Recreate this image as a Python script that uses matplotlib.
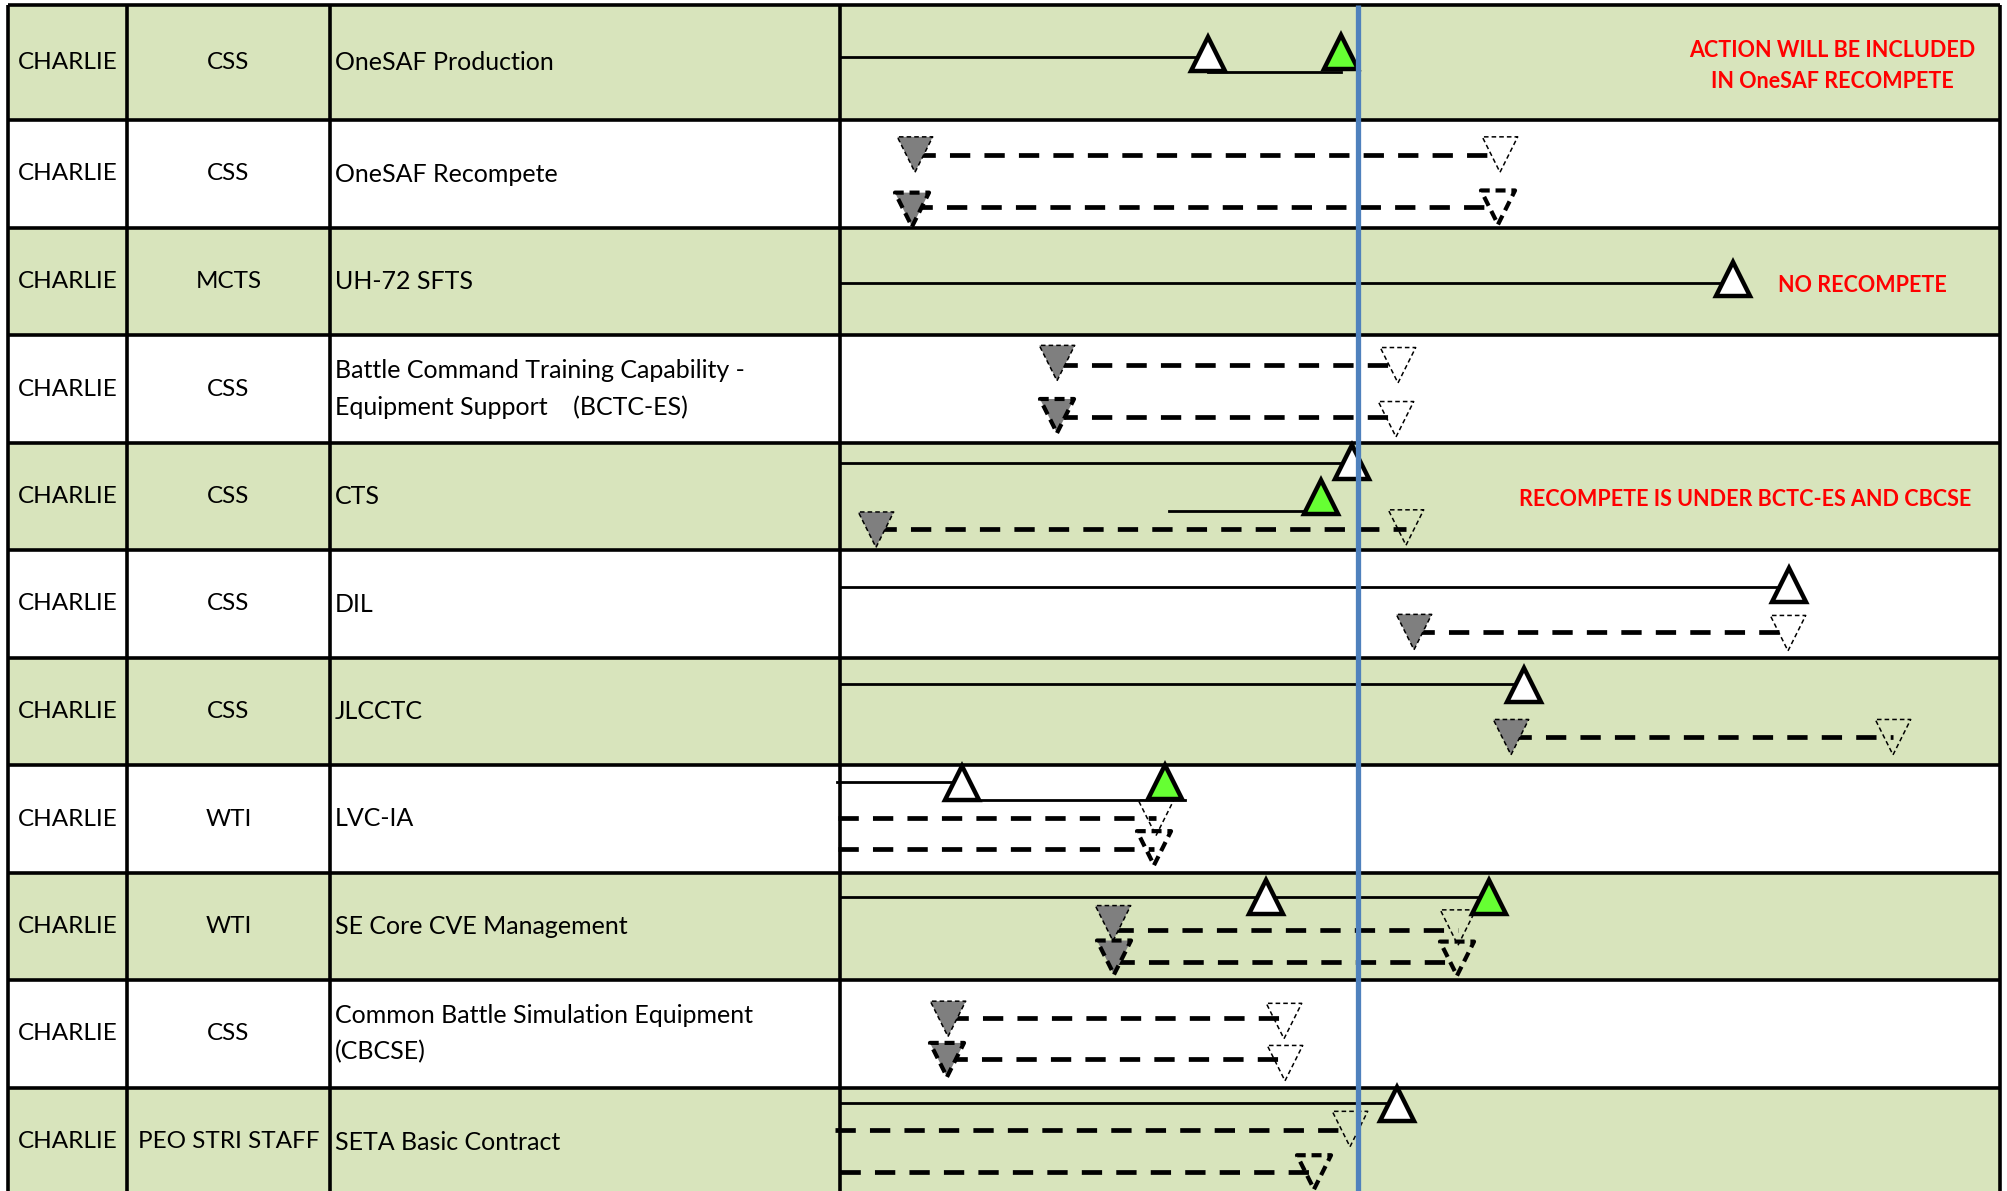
import matplotlib
matplotlib.use('Agg')
import matplotlib.pyplot as plt

plt.rcParams['font.family'] = ['Lato', 'DejaVu Sans']

# 表格内容
teams = ['CHARLIE'] * 11
offices = ['CSS', 'CSS', 'MCTS', 'CSS', 'CSS', 'CSS', 'CSS', 'WTI', 'WTI', 'CSS', 'PEO STRI STAFF']
programs = ['OneSAF Production',
            'OneSAF Recompete',
            'UH-72 SFTS',
            'Battle Command Training Capability -\nEquipment Support    (BCTC-ES)',
            'CTS',
            'DIL',
            'JLCCTC',
            'LVC-IA',
            'SE Core CVE Management',
            'Common Battle Simulation Equipment\n(CBCSE)',
            'SETA Basic Contract']

# 备注 (行号, 文本)
notes = [(0, 'ACTION WILL BE INCLUDED\nIN OneSAF RECOMPETE'),
         (2, 'NO RECOMPETE'),
         (4, 'RECOMPETE IS UNDER BCTC-ES AND CBCSE')]

# 时间轴数据, 单位: 月
today = 25.9

# 实线: (行, 开始, 结束, 行内位置)
solid_rows = [0, 0, 2, 4, 4, 5, 6, 7, 7, 8, 10]
solid_start = [0.0, 18.4, 0.0, 0.0, 16.45, 0.0, 0.0, -0.15, 6.1, 0.0, 0.0]
solid_end = [18.4, 25.05, 44.65, 25.6, 24.05, 47.45, 34.2, 6.1, 17.25, 32.45, 27.85]
solid_lane = [0.45, 0.58, 0.51, 0.19, 0.64, 0.345, 0.24, 0.16, 0.32, 0.22, 0.14]

# 上三角里程碑: (行, 时间, 行内位置, 是否完成)
up_rows = [0, 0, 2, 4, 4, 5, 6, 7, 7, 8, 8, 10]
up_x = [18.4, 25.05, 44.65, 25.6, 24.05, 47.45, 34.2, 6.1, 16.25, 21.3, 32.45, 27.85]
up_lane = [0.43, 0.41, 0.48, 0.18, 0.50, 0.325, 0.25, 0.17, 0.16, 0.22, 0.22, 0.15]
up_done = [False, True, False, False, True, False, False, False, True, False, True, False]

# 虚线
dash_rows = [1, 1, 3, 3, 4, 5, 6, 7, 7, 8, 8, 9, 9, 10, 10]
dash_start = [3.75, 3.6, 10.85, 10.85, 1.8, 28.7, 33.55, -0.1, -0.1, 13.65, 13.7, 5.4, 5.35, -0.25, 0.0]
dash_end = [33.0, 32.9, 27.9, 27.8, 28.3, 47.4, 52.65, 15.8, 15.7, 30.9, 30.85, 22.2, 22.25, 25.5, 23.7]
dash_lane = [0.32, 0.81, 0.28, 0.76, 0.80, 0.76, 0.74, 0.49, 0.78, 0.53, 0.83, 0.35, 0.73, 0.39, 0.78]

# 灰色下三角 (开始)
start_rows = [1, 1, 3, 3, 4, 5, 6, 8, 8, 9, 9]
start_x = [3.75, 3.6, 10.85, 10.85, 1.8, 28.7, 33.55, 13.65, 13.7, 5.4, 5.35]
start_lane = [0.32, 0.83, 0.26, 0.75, 0.81, 0.76, 0.74, 0.47, 0.79, 0.36, 0.74]
start_heavy = [0, 1, 0, 1, 0, 0, 0, 0, 1, 0, 1]

# 空心下三角 (结束)
end_rows = [1, 1, 3, 3, 4, 5, 6, 7, 7, 8, 8, 9, 9, 10, 10]
end_x = [33.0, 32.9, 27.9, 27.8, 28.3, 47.4, 52.65, 15.8, 15.7, 30.9, 30.85, 22.2, 22.25, 25.5, 23.7]
end_lane = [0.32, 0.81, 0.28, 0.78, 0.79, 0.77, 0.74, 0.49, 0.77, 0.51, 0.80, 0.38, 0.77, 0.38, 0.78]
end_heavy = [0, 1, 0, 0, 0, 0, 0, 0, 1, 0, 1, 0, 0, 0, 1]

# 版面 (像素)
W, H = 2007, 1191
row_edges = [5, 120, 228, 335, 443, 550, 658, 765, 873, 980, 1088, 1196]
col_edges = [8, 127, 330, 840, 2000]
months = 58
green_bg = '#D8E4BC'


def row_y(r, lane):
    return row_edges[r] + lane * (row_edges[r + 1] - row_edges[r])


fig = plt.figure(figsize=(W / 100, H / 100), dpi=100)
ax = fig.add_axes([0, 0, 1, 1])
ax.set_xlim(0, W)
ax.set_ylim(H, 0)
ax.axis('off')

# 背景色
for r in range(len(programs)):
    c = green_bg if r % 2 == 0 else 'white'
    ax.fill_between([col_edges[0], col_edges[-1]], row_edges[r], row_edges[r + 1], color=c, lw=0)

# 表格线
for y in row_edges[:-1]:
    ax.plot([col_edges[0], col_edges[-1]], [y, y], color='black', lw=2.6, solid_capstyle='butt')
for x in col_edges:
    ax.plot([x, x], [row_edges[0], H + 10], color='black', lw=2.6, solid_capstyle='butt')

# 文字
for r in range(len(programs)):
    yc = (row_edges[r] + row_edges[r + 1]) / 2
    ax.text((col_edges[0] + col_edges[1]) / 2, yc, teams[r], ha='center', va='center', fontsize=17.5)
    ax.text((col_edges[1] + col_edges[2]) / 2, yc, offices[r], ha='center', va='center', fontsize=17.5)
    ax.text(col_edges[2] + 5, yc, programs[r], ha='left', va='center', fontsize=18, linespacing=1.68)

note_x = [1832, 1862, 1745]
note_y = [66, 286, 500]
for (r, txt), nx, ny in zip(notes, note_x, note_y):
    ax.text(nx, ny, txt, ha='center', va='center', fontsize=15.5, fontweight='bold',
            color='red', linespacing=1.62)

# 时间轴
tl = fig.add_axes([col_edges[3] / W, 0, (col_edges[4] - col_edges[3]) / W, 1])
tl.set_xlim(0, months)
tl.set_ylim(H, 0)
tl.axis('off')

for r, a, b, ln in zip(solid_rows, solid_start, solid_end, solid_lane):
    y = row_y(r, ln)
    tl.plot([a, b], [y, y], color='black', lw=2.0, clip_on=False, zorder=2)

for r, a, b, ln in zip(dash_rows, dash_start, dash_end, dash_lane):
    y = row_y(r, ln)
    tl.plot([a, b], [y, y], color='black', lw=3.4, linestyle=(0, (4.3, 3.0)),
            dash_capstyle='butt', clip_on=False, zorder=2)

for r, x, ln, hv in zip(start_rows, start_x, start_lane, start_heavy):
    y = row_y(r, ln)
    if hv:
        tl.scatter([x], [y], marker='v', s=600, c='#7F7F7F', edgecolors='black',
                   linewidths=3.0, linestyle=(0, (2.4, 1.4)), clip_on=False, zorder=3)
    else:
        tl.scatter([x], [y], marker='v', s=650, c='#7F7F7F', edgecolors='black',
                   linewidths=1.1, linestyle=(0, (3, 2)), clip_on=False, zorder=3)

for r, x, ln, hv in zip(end_rows, end_x, end_lane, end_heavy):
    y = row_y(r, ln)
    if hv:
        tl.scatter([x], [y], marker='v', s=600, c='none', edgecolors='black',
                   linewidths=3.0, linestyle=(0, (2.4, 1.4)), clip_on=False, zorder=3)
    else:
        tl.scatter([x], [y], marker='v', s=650, c='none', edgecolors='black',
                   linewidths=1.1, linestyle=(0, (3, 2)), clip_on=False, zorder=3)

for r, x, ln, done in zip(up_rows, up_x, up_lane, up_done):
    y = row_y(r, ln)
    tl.plot([x], [y], marker='^', ms=24, mfc='#66FF33' if done else 'white',
            mec='black', mew=3.2, clip_on=False, zorder=4)

# 今天
tl.plot([today, today], [row_edges[0], H + 10], color='#4F81BD', lw=3.8,
        solid_capstyle='butt', clip_on=False, zorder=6)

plt.savefig('out.png', dpi=100)
